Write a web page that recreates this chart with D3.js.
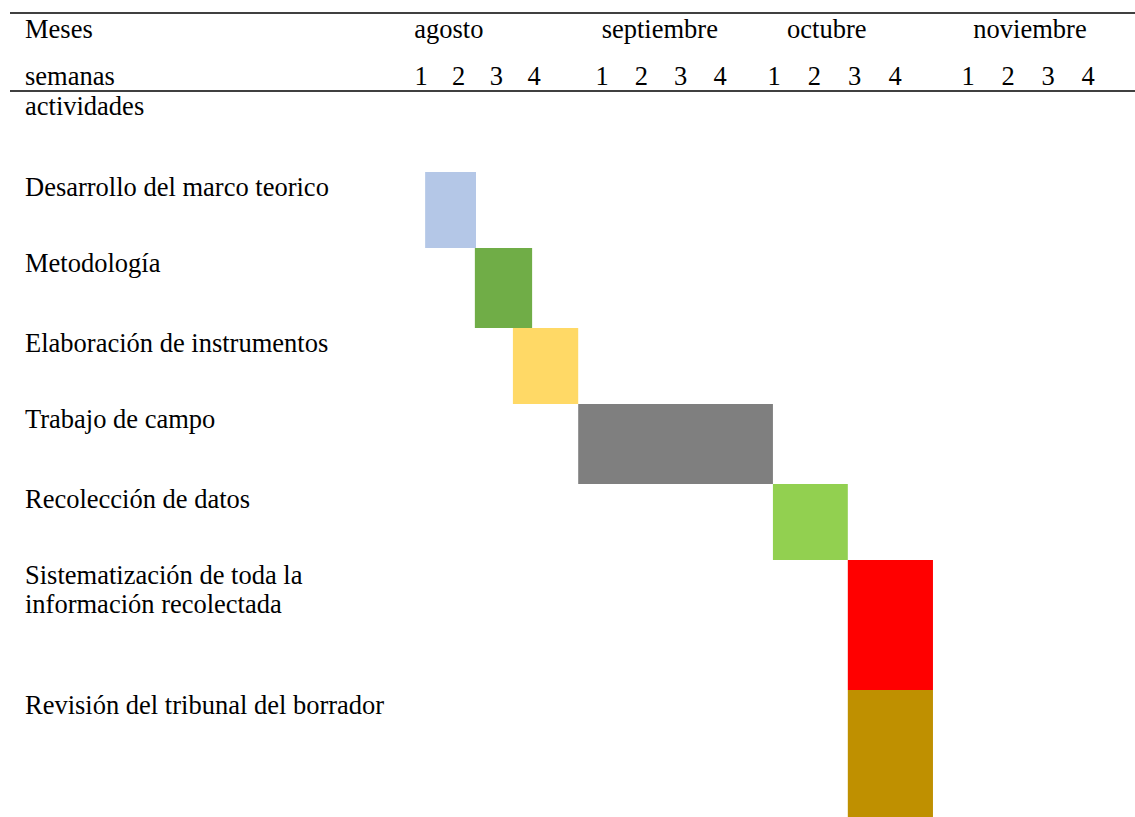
<!DOCTYPE html>
<html>
<head>
<meta charset="utf-8">
<script src="https://cdn.jsdelivr.net/npm/d3@7"></script>
<style>
  html, body { margin: 0; padding: 0; background: #fff; }
  svg { display: block; }
</style>
</head>
<body>
<script>
// ---- data ----
const months = ["agosto", "septiembre", "octubre", "noviembre"];
const weeks = ["1", "2", "3", "4"];
const activities = [
  ["Desarrollo del marco teorico"],
  ["Metodología"],
  ["Elaboración de instrumentos"],
  ["Trabajo de campo"],
  ["Recolección de datos"],
  ["Sistematización de toda la", "información recolectada"],
  ["Revisión del tribunal del borrador"]
];
// start / end in weeks (0 = start of first week of agosto)
const starts = [0.61, 1.93, 2.94, 4.15, 8.48, 10.33, 10.33];
const ends   = [1.96, 3.45, 4.15, 8.48, 10.33, 12.02, 12.02];
const colors = ["#B4C7E7", "#70AD47", "#FFD966", "#7F7F7F", "#92D050", "#FF0000", "#BF9000"];

// ---- layout ----
const W = 1135, H = 817;
const FONT = "\"Liberation Serif\", \"Times New Roman\", Tinos, serif";
const svg = d3.select("body").append("svg").attr("width", W).attr("height", H)
  .style("font-family", FONT);
svg.append("rect").attr("width", W).attr("height", H).attr("fill", "#fff");

// time scale: week index -> x (table columns are irregular)
const x = d3.scaleLinear()
  .domain([0.5, 3.5, 4.5, 7.5, 8.5, 11.5, 12.5, 15.5])
  .range([421, 534, 602, 720, 774, 895, 968, 1088]);

// month header label centres (in week units) in the table cells
const monthCentres = [1.24, 5.97, 9.81, 14.05];

// row scale: row boundaries
const y = d3.scaleLinear()
  .domain([0, 1, 2, 3, 4, 5, 6, 7])
  .range([172, 248, 328, 404, 484, 560, 690, 817]);

const fs = 26.5;

// header rules
svg.append("line").attr("x1", 10).attr("x2", W).attr("y1", 13).attr("y2", 13)
  .attr("stroke", "#000").attr("stroke-width", 1.6);
svg.append("line").attr("x1", 10).attr("x2", W).attr("y1", 91).attr("y2", 91)
  .attr("stroke", "#000").attr("stroke-width", 1.6);

function t(sel) { return sel.style("font-family", FONT).attr("font-size", fs).attr("fill", "#000"); }

// header labels
t(svg.append("text")).attr("x", 25).attr("y", 38).text("Meses");
t(svg.append("text")).attr("x", 25).attr("y", 85).text("semanas");
t(svg.append("text")).attr("x", 25).attr("y", 115).text("actividades");

t(svg.selectAll("text.month").data(months).join("text"))
  .attr("class", "month")
  .attr("x", (d, i) => x(monthCentres[i]))
  .attr("y", 38)
  .attr("text-anchor", "middle")
  .text(d => d);

const weekCells = months.flatMap((m, mi) => weeks.map((w, wi) => ({ w, t: mi * 4 + wi + 0.5 })));
t(svg.selectAll("text.week").data(weekCells).join("text"))
  .attr("class", "week")
  .attr("x", d => x(d.t))
  .attr("y", 85)
  .attr("text-anchor", "middle")
  .text(d => d.w);

// bars
svg.selectAll("rect.bar").data(activities).join("rect")
  .attr("class", "bar")
  .attr("x", (d, i) => x(starts[i]))
  .attr("width", (d, i) => x(ends[i]) - x(starts[i]))
  .attr("y", (d, i) => y(i))
  .attr("height", (d, i) => y(i + 1) - y(i))
  .attr("fill", (d, i) => colors[i]);

// activity labels
const lab = t(svg.selectAll("text.act").data(activities).join("text"))
  .attr("class", "act")
  .attr("y", (d, i) => y(i) + 24);
lab.selectAll("tspan").data(d => d).join("tspan")
  .attr("x", 25)
  .attr("dy", (d, j) => j === 0 ? 0 : 29)
  .text(d => d);
</script>
</body>
</html>
